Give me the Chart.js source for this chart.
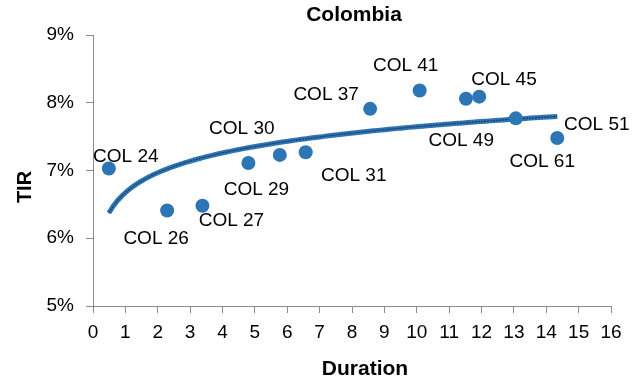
<!DOCTYPE html>
<html lang="es">
<head>
  <meta charset="UTF-8">
  <title>Colombia</title>
  <script src="https://cdn.jsdelivr.net/npm/chart.js"></script>
  <style>
    body {
      margin: 0;
      background: #fff;
    }

    #contenedor {
      width: 632px;
      height: 382px;
    }
  </style>
</head>

<body>
  <div id="contenedor">
    <canvas id="grafico"></canvas>
  </div>

  <script>
    // bonos, duración y TIR (%)
    const bonos = ['COL 24', 'COL 26', 'COL 27', 'COL 29', 'COL 30', 'COL 31', 'COL 37', 'COL 41', 'COL 45', 'COL 49', 'COL 51', 'COL 61'];
    const duracion = [0.49, 2.29, 3.38, 4.80, 5.77, 6.57, 8.56, 10.09, 11.52, 11.93, 13.06, 14.34];
    const tir = [7.03, 6.41, 6.48, 7.11, 7.23, 7.27, 7.91, 8.18, 8.06, 8.09, 7.77, 7.48];
    const ticksX = [0, 1, 2, 3, 4, 5, 6, 7, 8, 9, 10, 11, 12, 13, 14, 15, 16];
    const ticksY = [5, 6, 7, 8, 9];

    // donde va cada etiqueta respecto a su punto (px)
    const desplaz = [
      [17, -12], [-11, 28], [29, 15], [8, 27], [-38, -26], [48, 24],
      [-44, -14], [-14, -25], [38, -19], [-18, 44], [81, 6], [-15, 24]
    ];

    // línea de tendencia logarítmica: tir = a + b * ln(duracion)
    const n = duracion.length;
    const lnx = duracion.map(Math.log);
    const mx = lnx.reduce((s, v) => s + v, 0) / n;
    const my = tir.reduce((s, v) => s + v, 0) / n;
    let sxy = 0, sxx = 0;
    for (let i = 0; i < n; i++) {
      sxy += (lnx[i] - mx) * (tir[i] - my);
      sxx += (lnx[i] - mx) * (lnx[i] - mx);
    }
    const b = sxy / sxx;
    const a = my - b * mx;
    const xMin = Math.min(...duracion);
    const xMax = Math.max(...duracion);
    const tendencia = [];
    for (let i = 0; i <= 100; i++) {
      const x = xMin + (xMax - xMin) * i / 100;
      tendencia.push({ x: x, y: a + b * Math.log(x) });
    }

    Chart.defaults.font.family = '"Liberation Sans", Arial, sans-serif';
    Chart.defaults.color = '#000';

    const etiquetas = {
      id: 'etiquetas',
      afterDatasetsDraw(chart) {
        const { ctx, chartArea, scales: { x, y } } = chart;
        ctx.save();
        ctx.fillStyle = '#000';
        ctx.textAlign = 'center';
        ctx.textBaseline = 'middle';
        ctx.font = '19px "Liberation Sans", Arial, sans-serif';
        bonos.forEach((nombre, i) => {
          ctx.fillText(nombre,
            x.getPixelForValue(duracion[i]) + desplaz[i][0],
            y.getPixelForValue(tir[i]) + desplaz[i][1]);
        });

        const centro = (chartArea.left + chartArea.right) / 2;
        ctx.font = 'bold 21px "Liberation Sans", Arial, sans-serif';
        ctx.fillText('Colombia', centro + 2, 15);
        ctx.fillText('Duration', centro + 13, 369);
        ctx.translate(25.5, 187);
        ctx.rotate(-Math.PI / 2);
        ctx.font = 'bold 20px "Liberation Sans", Arial, sans-serif';
        ctx.fillText('TIR', 0, 0);
        ctx.restore();
      }
    };

    const ejeGris = '#8c8c8c';

    new Chart(document.getElementById('grafico'), {
      type: 'scatter',
      data: {
        datasets: [
          {
            label: 'TIR',
            data: duracion.map((d, i) => ({ x: d, y: tir[i] })),
            backgroundColor: '#2e75b6',
            borderWidth: 0,
            pointRadius: 7,
            order: 0
          },
          {
            label: 'tendencia',
            data: tendencia,
            showLine: true,
            borderColor: '#1f3a60',
            borderWidth: 1.2,
            borderDash: [2, 1],
            pointRadius: 0,
            order: 1
          },
          {
            label: 'tendencia borde',
            data: tendencia,
            showLine: true,
            borderColor: '#2e75b6',
            borderWidth: 5,
            pointRadius: 0,
            order: 2
          }
        ]
      },
      options: {
        responsive: true,
        maintainAspectRatio: false,
        animation: false,
        layout: {
          padding: { top: 35, right: 21, bottom: 0, left: 0 }
        },
        scales: {
          x: {
            type: 'linear',
            min: 0,
            max: 16,
            afterBuildTicks: s => { s.ticks = ticksX.map(v => ({ value: v })); },
            afterFit: s => { s.height = 76; },
            ticks: {
              font: { size: 19 },
              color: '#000',
              padding: 8,
              maxRotation: 0,
              autoSkip: false
            },
            grid: { drawOnChartArea: false, color: ejeGris, tickLength: 7 },
            border: { color: ejeGris }
          },
          y: {
            type: 'linear',
            min: 5,
            max: 9,
            afterBuildTicks: s => { s.ticks = ticksY.map(v => ({ value: v })); },
            afterFit: s => { s.width = 93; },
            ticks: {
              font: { size: 19 },
              color: '#000',
              padding: 12,
              callback: v => v + '%'
            },
            grid: { drawOnChartArea: false, color: ejeGris, tickLength: 7 },
            border: { color: ejeGris }
          }
        },
        plugins: {
          legend: { display: false },
          tooltip: { enabled: false }
        }
      },
      plugins: [etiquetas]
    });
  </script>
</body>

</html>
